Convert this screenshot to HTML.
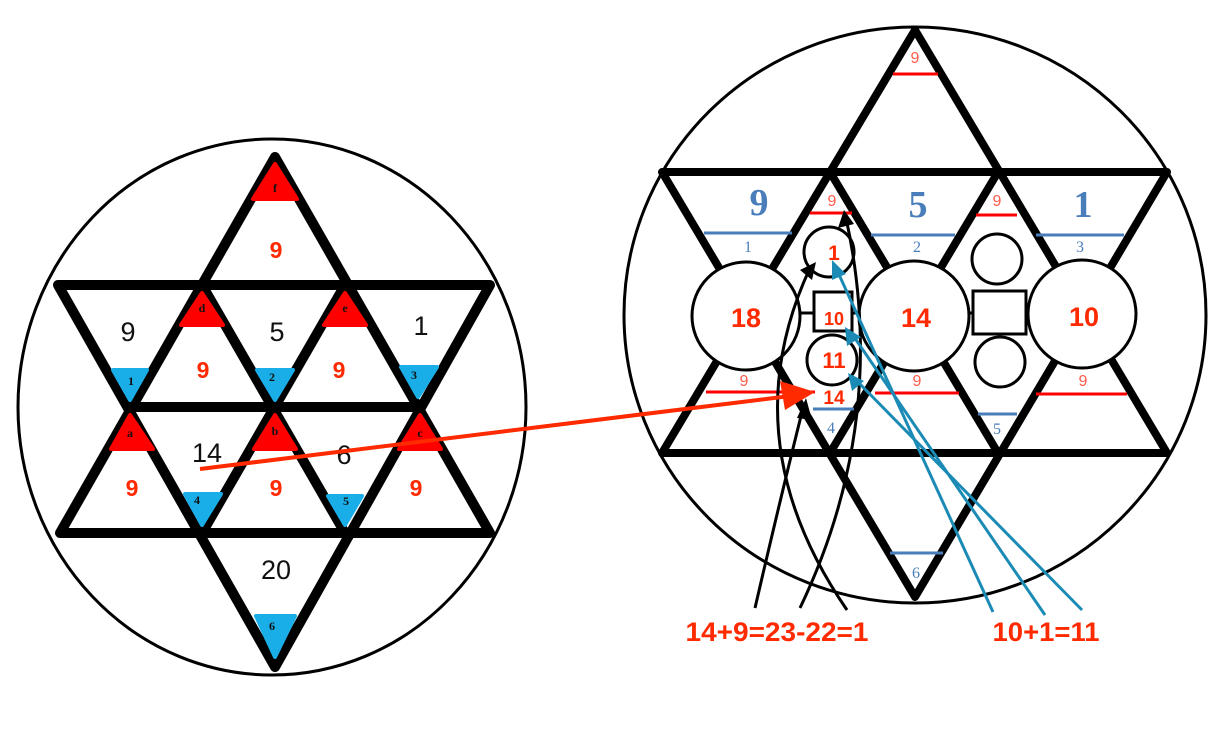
<!DOCTYPE html>
<html><head><meta charset="utf-8"><style>
html,body{margin:0;padding:0;background:#fff;}
svg{display:block;}
.bk{font-family:"Liberation Sans",sans-serif;fill:#111;font-size:27px;text-anchor:middle;}
.r9{font-family:"Liberation Sans",sans-serif;font-weight:bold;fill:#ff2a00;font-size:23px;text-anchor:middle;}
.sm{font-family:"Liberation Serif",serif;font-weight:bold;fill:#111;font-size:12px;text-anchor:middle;}
.bb{font-family:"Liberation Serif",serif;font-weight:bold;fill:#4a7ebb;font-size:38px;text-anchor:middle;}
.bs{font-family:"Liberation Serif",serif;fill:#4a7ebb;font-size:16px;text-anchor:middle;}
.rs{font-family:"Liberation Sans",sans-serif;fill:#ff5a4a;font-size:16px;text-anchor:middle;}
.rb{font-family:"Liberation Sans",sans-serif;font-weight:bold;fill:#ff2a00;text-anchor:middle;}
</style></head><body>
<svg width="1229" height="747" viewBox="0 0 1229 747" xmlns="http://www.w3.org/2000/svg">
<!-- LEFT FIGURE -->
<ellipse cx="272" cy="407" rx="254" ry="268" fill="none" stroke="#000" stroke-width="3"/>
<g stroke="#000" stroke-width="10" stroke-linecap="round" stroke-linejoin="round" fill="none">
<path d="M275,157 L60,533 L490,533 Z"/>
<path d="M58,285 L490,285 L275,667 Z"/>
<line x1="130" y1="407" x2="420" y2="407"/>
<line x1="202" y1="285" x2="345" y2="533"/>
<line x1="345" y1="285" x2="202" y2="533"/>
</g>
<g stroke-linejoin="round" stroke-width="4">
<path d="M275,164 L253,199 L297,199 Z" fill="#f00" stroke="#f00"/>
<path d="M202,293 L181,325 L223,325 Z" fill="#f00" stroke="#f00"/>
<path d="M345,293 L324,325 L366,325 Z" fill="#f00" stroke="#f00"/>
<path d="M130,415 L111,449 L153,449 Z" fill="#f00" stroke="#f00"/>
<path d="M275,415 L254,449 L296,449 Z" fill="#f00" stroke="#f00"/>
<path d="M420,415 L399,449 L441,449 Z" fill="#f00" stroke="#f00"/>
<path d="M130,400 L113,370 L147,370 Z" fill="#1aaee8" stroke="#1aaee8"/>
<path d="M275,400 L257,370 L293,370 Z" fill="#1aaee8" stroke="#1aaee8"/>
<path d="M418,397 L401,367 L437,367 Z" fill="#1aaee8" stroke="#1aaee8"/>
<path d="M202,525 L185,494 L221,494 Z" fill="#1aaee8" stroke="#1aaee8"/>
<path d="M345,525 L328,496 L362,496 Z" fill="#1aaee8" stroke="#1aaee8"/>
<path d="M275,657 L256,616 L295,616 Z" fill="#1aaee8" stroke="#1aaee8"/>
</g>
<text class="sm" x="275" y="192">f</text>
<text class="sm" x="202" y="312">d</text>
<text class="sm" x="345" y="312">e</text>
<text class="sm" x="130" y="437">a</text>
<text class="sm" x="275" y="435">b</text>
<text class="sm" x="420" y="437">c</text>
<text class="sm" x="131" y="385">1</text>
<text class="sm" x="272" y="381">2</text>
<text class="sm" x="414" y="379">3</text>
<text class="sm" x="197" y="504">4</text>
<text class="sm" x="346" y="505">5</text>
<text class="sm" x="272" y="630">6</text>
<text class="bk" x="128" y="341">9</text>
<text class="bk" x="277" y="341">5</text>
<text class="bk" x="421" y="335">1</text>
<text class="bk" x="207" y="462">14</text>
<text class="bk" x="344" y="464">6</text>
<text class="bk" x="276" y="579">20</text>
<text class="r9" x="276" y="258">9</text>
<text class="r9" x="203" y="378">9</text>
<text class="r9" x="339" y="378">9</text>
<text class="r9" x="132" y="496">9</text>
<text class="r9" x="276" y="496">9</text>
<text class="r9" x="416" y="496">9</text>

<!-- RIGHT FIGURE -->
<ellipse cx="915" cy="315" rx="291" ry="288" fill="none" stroke="#000" stroke-width="3"/>
<g stroke="#000" stroke-width="8" stroke-linecap="round" stroke-linejoin="round" fill="none">
<path d="M915,30 L662,453 L1167,453 Z"/>
<path d="M662,172 L1167,172 L915,597 Z"/>
<line x1="830" y1="172" x2="998" y2="453"/>
<line x1="998" y1="172" x2="830" y2="453"/>
</g>
<g stroke-width="3">
<line x1="893" y1="74" x2="938" y2="74" stroke="#f00"/>
<line x1="810" y1="213" x2="852" y2="213" stroke="#f00"/>
<line x1="976" y1="215" x2="1017" y2="215" stroke="#f00"/>
<line x1="704" y1="233" x2="792" y2="233" stroke="#4a7ebb"/>
<line x1="871" y1="235" x2="955" y2="235" stroke="#4a7ebb"/>
<line x1="1036" y1="235" x2="1124" y2="235" stroke="#4a7ebb"/>
<line x1="706" y1="392" x2="815" y2="392" stroke="#f00"/>
<line x1="875" y1="393" x2="959" y2="393" stroke="#f00"/>
<line x1="1036" y1="394" x2="1127" y2="394" stroke="#f00"/>
<line x1="813" y1="409" x2="854" y2="409" stroke="#4a7ebb"/>
<line x1="978" y1="414" x2="1017" y2="414" stroke="#4a7ebb"/>
<line x1="890" y1="553" x2="943" y2="553" stroke="#4a7ebb"/>
</g>
<g fill="#fff" stroke="#000" stroke-width="3">
<line x1="800" y1="313" x2="860" y2="313"/>
<line x1="965" y1="313" x2="1030" y2="313"/>
<circle cx="746" cy="316" r="54"/>
<circle cx="914" cy="316" r="55"/>
<circle cx="1082" cy="314" r="54"/>
<circle cx="829" cy="252" r="25"/>
<circle cx="832" cy="360" r="25"/>
<rect x="814" y="292" width="38" height="39"/>
<circle cx="997" cy="259" r="25"/>
<circle cx="1000" cy="362" r="25"/>
<rect x="973" y="291" width="53" height="43"/>
</g>
<text class="rs" x="915" y="63">9</text>
<text class="rs" x="832" y="206">9</text>
<text class="rs" x="997" y="206">9</text>
<text class="bb" x="759" y="215">9</text>
<text class="bb" x="918" y="217">5</text>
<text class="bb" x="1083" y="217">1</text>
<text class="bs" x="748" y="252">1</text>
<text class="bs" x="917" y="252">2</text>
<text class="bs" x="1080" y="252">3</text>
<text class="rs" x="744" y="386">9</text>
<text class="rs" x="917" y="386">9</text>
<text class="rs" x="1083" y="386">9</text>
<text class="bs" x="831" y="433">4</text>
<text class="bs" x="997" y="434">5</text>
<text class="bs" x="916" y="578">6</text>
<text class="rb" x="746" y="327" font-size="27">18</text>
<text class="rb" x="916" y="327" font-size="27">14</text>
<text class="rb" x="1084" y="326" font-size="27">10</text>
<text class="rb" x="834" y="260" font-size="21">1</text>
<text class="rb" x="834" y="325" font-size="18">10</text>
<text class="rb" x="834" y="368" font-size="22">11</text>
<text class="rb" x="834" y="404" font-size="19">14</text>

<g stroke="#000" stroke-width="3" fill="none">
<path d="M755,608 Q780,500 803,408"/>
<path d="M800,608 Q890,420 846,218"/>
<path d="M847,610 Q730,440 810,268"/>
</g>
<g fill="#000">
<polygon points="806,398 797,418 812,420"/>
<polygon points="844,210 838,228 854,224"/>
<polygon points="816,262 800,270 812,280"/>
</g>
<g stroke="#1b8bb5" stroke-width="3">
<line x1="993" y1="612" x2="836" y2="268"/>
<line x1="1045" y1="615" x2="852" y2="334"/>
<line x1="1082" y1="610" x2="856" y2="380"/>
</g>
<g fill="#1b8bb5">
<polygon points="832,260 832,280 846,274"/>
<polygon points="845,327 847,346 861,337"/>
<polygon points="848,373 852,391 864,381"/>
</g>
<line x1="200" y1="469" x2="790" y2="396" stroke="#ff2a00" stroke-width="4"/>
<polygon points="815,392 780,381 785,410" fill="#ff2a00"/>
<text class="rb" x="777" y="641" font-size="27" textLength="183" lengthAdjust="spacingAndGlyphs">14+9=23-22=1</text>
<text class="rb" x="1046" y="641" font-size="27" textLength="107" lengthAdjust="spacingAndGlyphs">10+1=11</text>
</svg>
</body></html>
